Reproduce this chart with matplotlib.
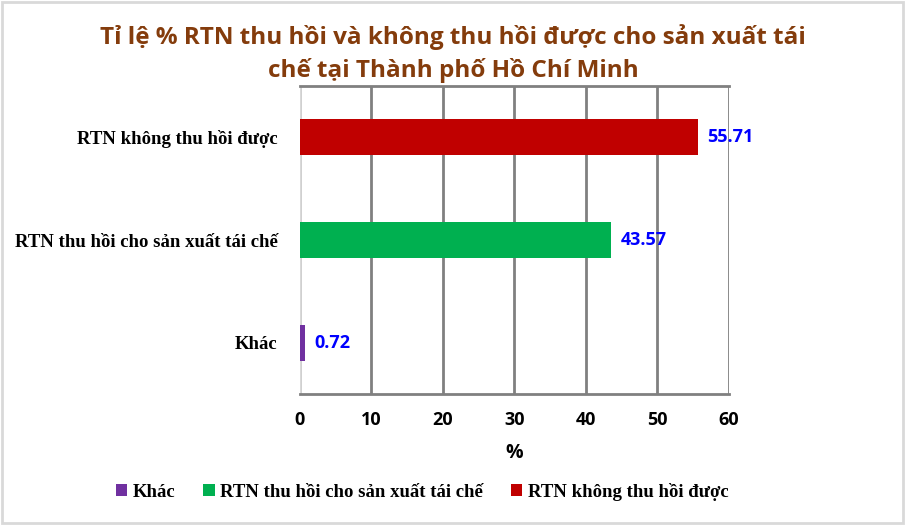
import matplotlib.pyplot as plt
from matplotlib.patches import Rectangle

categories = ["Khác", "RTN thu hồi cho sản xuất tái chế", "RTN không thu hồi được"]
values = [0.72, 43.57, 55.71]
colors = ["#7030A0", "#00B050", "#C00000"]
xticks = [0, 10, 20, 30, 40, 50, 60]

title = "Tỉ lệ % RTN thu hồi và không thu hồi được cho sản xuất tái\nchế tại Thành phố Hồ Chí Minh"
sans = "Open Sans"

fig = plt.figure(figsize=(9.06, 5.25), dpi=100)
ax = fig.add_axes([0.331, 0.2495, 0.4735, 0.5865])

ypos = list(range(len(categories)))
bars = ax.barh(ypos, values, height=0.35, color=colors, zorder=3)

for y, v in zip(ypos, values):
    ax.text(v + 1.3, y, f"{v:.2f}", va="center", ha="left", color="#0000FF",
            fontsize=13, fontweight="bold", family=sans)

ax.set_xlim(0, 60)
ax.set_ylim(-0.5, 2.5)
ax.set_xticks(xticks)
ax.set_xticklabels([str(t) for t in xticks], fontsize=13, fontweight="bold", family=sans)
ax.set_yticks(ypos)
ax.set_yticklabels(categories, fontsize=13.5, fontweight="bold", family="Liberation Serif")
ax.tick_params(axis="both", length=0)
ax.tick_params(axis="x", pad=12)
ax.tick_params(axis="y", pad=16)
ax.set_xlabel("%", fontsize=14, fontweight="bold", family=sans, labelpad=10)

ax.grid(axis="x", color="#808080", linewidth=2, zorder=0)
for s in ["right", "left"]:
    ax.spines[s].set_visible(False)
ax.spines["top"].set_color("#808080")
ax.spines["top"].set_linewidth(2)
ax.spines["bottom"].set_color("#808080")
ax.spines["bottom"].set_linewidth(2)
ax.axvline(0, color="#D9D9D9", linewidth=2, zorder=2)

fig.suptitle(title, x=0.5, y=0.955, fontsize=17.5, fontweight="bold", color="#843C0C",
             family=sans, linespacing=1.45)

handles = [bars[0], bars[1], bars[2]]
leg = fig.legend(handles, categories, loc="center", bbox_to_anchor=(0.466, 0.063), ncol=3,
                 frameon=False, handlelength=0.6, handleheight=0.6, handletextpad=0.3,
                 columnspacing=1.5, prop={"family": "Liberation Serif", "weight": "bold", "size": 13.5})

fig.patches.append(Rectangle((0.002, 0.003), 0.995, 0.993, transform=fig.transFigure,
                             fill=False, edgecolor="#D9D9D9", linewidth=2))

fig.savefig("out.png", dpi=100)
